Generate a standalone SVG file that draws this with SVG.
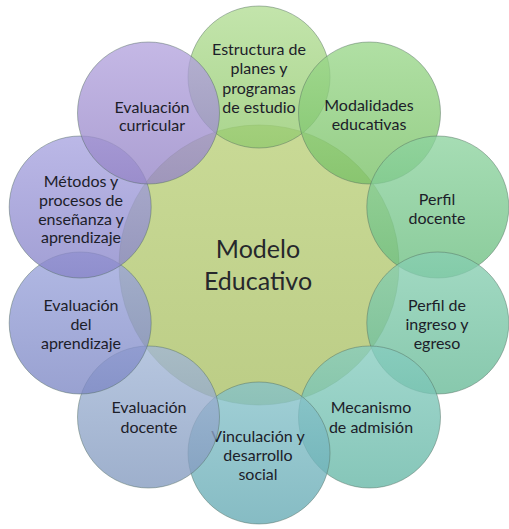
<svg xmlns="http://www.w3.org/2000/svg" width="509" height="529" viewBox="0 0 509 529">
<defs>
<linearGradient id="gc" x1="0" y1="0" x2="0" y2="1"><stop offset="0" stop-color="#c9da96"/><stop offset="1" stop-color="#bccd86"/></linearGradient>
<linearGradient id="g1" x1="0" y1="0" x2="0" y2="1"><stop offset="0" stop-color="#b2dd94"/><stop offset="1" stop-color="#92c96e"/></linearGradient>
<linearGradient id="g2" x1="0" y1="0" x2="0" y2="1"><stop offset="0" stop-color="#9ad78a"/><stop offset="1" stop-color="#78c066"/></linearGradient>
<linearGradient id="g3" x1="0" y1="0" x2="0" y2="1"><stop offset="0" stop-color="#8dd39f"/><stop offset="1" stop-color="#6abd7f"/></linearGradient>
<linearGradient id="g4" x1="0" y1="0" x2="0" y2="1"><stop offset="0" stop-color="#88cfb2"/><stop offset="1" stop-color="#66b996"/></linearGradient>
<linearGradient id="g5" x1="0" y1="0" x2="0" y2="1"><stop offset="0" stop-color="#86ccbf"/><stop offset="1" stop-color="#64b6a5"/></linearGradient>
<linearGradient id="g6" x1="0" y1="0" x2="0" y2="1"><stop offset="0" stop-color="#86c2ca"/><stop offset="1" stop-color="#64a9b3"/></linearGradient>
<linearGradient id="g7" x1="0" y1="0" x2="0" y2="1"><stop offset="0" stop-color="#a2b6d6"/><stop offset="1" stop-color="#8299be"/></linearGradient>
<linearGradient id="g8" x1="0" y1="0" x2="0" y2="1"><stop offset="0" stop-color="#9ca5dc"/><stop offset="1" stop-color="#7c87c4"/></linearGradient>
<linearGradient id="g9" x1="0" y1="0" x2="0" y2="1"><stop offset="0" stop-color="#a8a4e0"/><stop offset="1" stop-color="#8784c8"/></linearGradient>
<linearGradient id="g10" x1="0" y1="0" x2="0" y2="1"><stop offset="0" stop-color="#b4a4de"/><stop offset="1" stop-color="#9484c6"/></linearGradient>
</defs>
<style>
.sat{fill-opacity:0.78;stroke:#4f6a5e;stroke-opacity:0.45;stroke-width:1}
.ctr{stroke:#8a9a60;stroke-opacity:0.5;stroke-width:1}
text{font-family:"Lato","Open Sans","Liberation Sans",sans-serif;fill:#1c2029;text-anchor:middle}
.t{font-size:16px}
.c{font-size:25px;fill:#26282c}
</style>
<rect width="509" height="529" fill="#ffffff"/>
<g id="center">
<circle class="ctr" cx="259" cy="265" r="140" fill="url(#gc)"/>
<text class="c" x="258" y="258">Modelo</text>
<text class="c" x="258" y="290">Educativo</text>
</g>
<g id="n1"><circle class="sat" cx="259" cy="77" r="71" fill="url(#g1)"/>
<text class="t" x="259" y="55">Estructura de</text><text class="t" x="259" y="74">planes y</text><text class="t" x="259" y="94">programas</text><text class="t" x="259" y="113">de estudio</text></g>
<g id="n2"><circle class="sat" cx="369.5" cy="113" r="71" fill="url(#g2)"/>
<text class="t" x="369" y="111">Modalidades</text><text class="t" x="369" y="130">educativas</text></g>
<g id="n3"><circle class="sat" cx="437.8" cy="207" r="71" fill="url(#g3)"/>
<text class="t" x="437" y="205">Perfil</text><text class="t" x="437" y="224">docente</text></g>
<g id="n4"><circle class="sat" cx="437.8" cy="323" r="71" fill="url(#g4)"/>
<text class="t" x="437" y="311">Perfil de</text><text class="t" x="437" y="330">ingreso y</text><text class="t" x="437" y="349">egreso</text></g>
<g id="n5"><circle class="sat" cx="369.5" cy="417" r="71" fill="url(#g5)"/>
<text class="t" x="371" y="413">Mecanismo</text><text class="t" x="371" y="433">de admisión</text></g>
<g id="n6"><circle class="sat" cx="259" cy="453" r="71" fill="url(#g6)"/>
<text class="t" x="258" y="442">Vinculación y</text><text class="t" x="258" y="461">desarrollo</text><text class="t" x="258" y="480">social</text></g>
<g id="n7"><circle class="sat" cx="148.5" cy="417" r="71" fill="url(#g7)"/>
<text class="t" x="149" y="413">Evaluación</text><text class="t" x="149" y="433">docente</text></g>
<g id="n8"><circle class="sat" cx="80.2" cy="323" r="71" fill="url(#g8)"/>
<text class="t" x="81" y="311">Evaluación</text><text class="t" x="81" y="330">del</text><text class="t" x="81" y="349">aprendizaje</text></g>
<g id="n9"><circle class="sat" cx="80.2" cy="207" r="71" fill="url(#g9)"/>
<text class="t" x="81" y="187">Métodos y</text><text class="t" x="81" y="206">procesos de</text><text class="t" x="81" y="225">enseñanza y</text><text class="t" x="81" y="243">aprendizaje</text></g>
<g id="n10"><circle class="sat" cx="148.5" cy="113" r="71" fill="url(#g10)"/>
<text class="t" x="152" y="113">Evaluación</text><text class="t" x="152" y="131">curricular</text></g>
<g id="connectors"/>
</svg>
